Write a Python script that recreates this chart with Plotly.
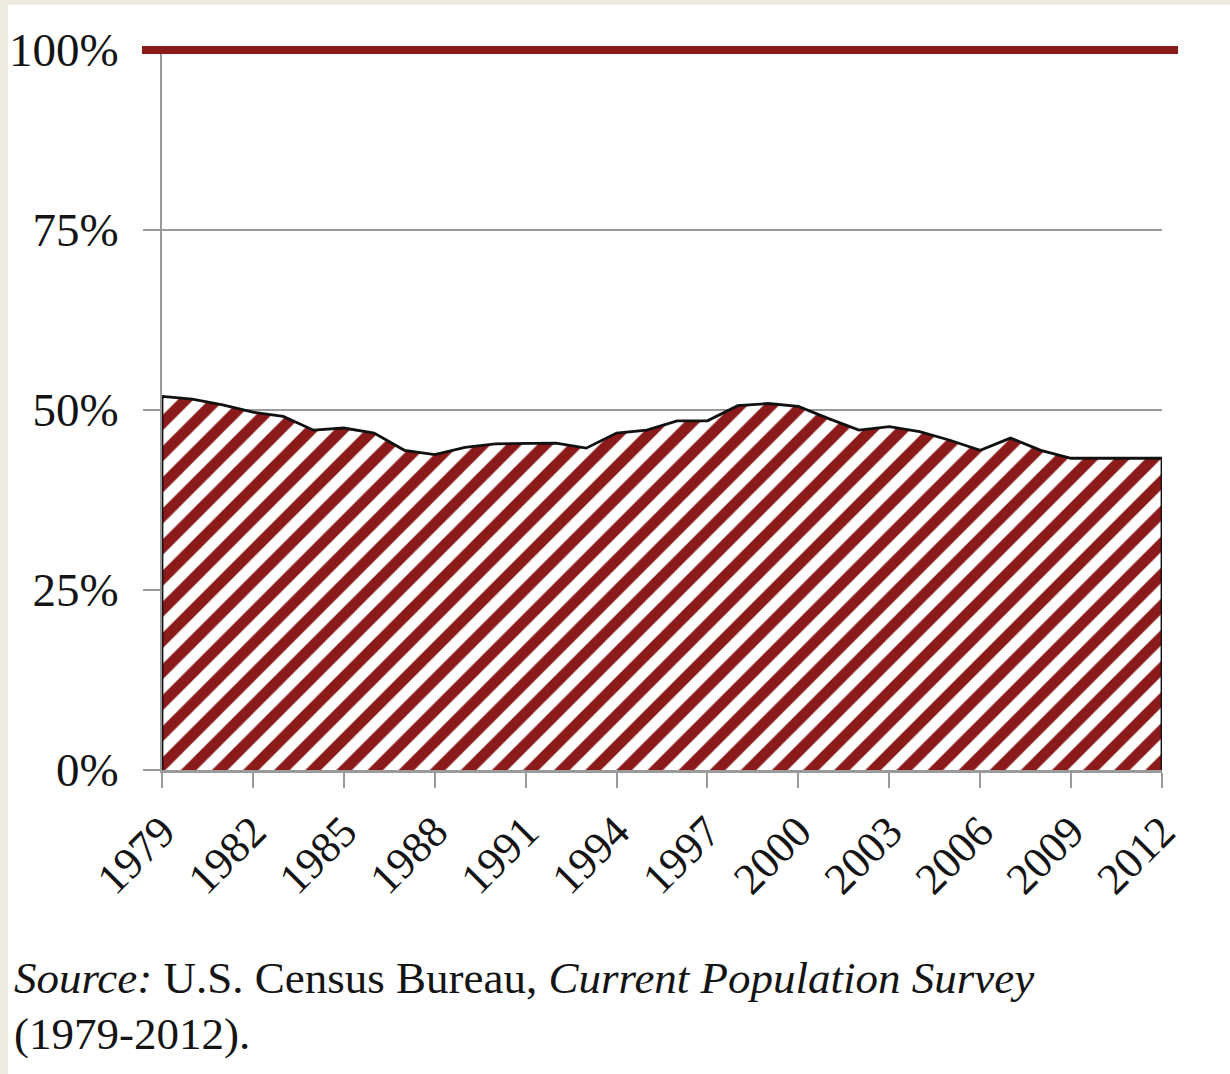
import plotly.graph_objects as go

# Share of the population (percent), 1979-2012
years = list(range(1979, 2013))
share = [51.9, 51.5, 50.7, 49.7, 49.1, 47.2, 47.5, 46.8, 44.4, 43.8,
         44.8, 45.3, 45.3, 45.4, 44.7, 46.8, 47.2, 48.5, 48.5, 50.6,
         50.9, 50.5, 48.8, 47.2, 47.7, 47.0, 45.8, 44.4, 46.1, 44.4,
         43.3, 43.3, 43.3, 43.3]

y_ticks = [0, 25, 50, 75, 100]
y_tick_labels = ["0%", "25%", "50%", "75%", "100%"]
x_ticks = list(range(1979, 2013, 3))
x_tick_labels = [str(y) for y in x_ticks]

RED = "#8B1A1A"
GRAY = "#9A9A9A"
INK = "#141414"
SERIF = "Liberation Serif"

# closed outline: down the left edge, along the series, down the right edge
poly_x = [years[0]] + years + [years[-1]]
poly_y = [0] + share + [0]

fig = go.Figure()
fig.add_trace(go.Scatter(
    x=poly_x, y=poly_y,
    mode="lines",
    fill="toself",
    fillcolor="white",
    fillpattern=dict(shape="/", fgcolor=RED, bgcolor="white",
                     size=22, solidity=0.5, fillmode="replace"),
    line=dict(color="#111111", width=2.8, shape="linear"),
    hoverinfo="skip",
    showlegend=False,
))

W, H = 1230, 1074
L, R, T, B = 162, 68, 50, 304
pw, ph = W - L - R, H - T - B


def px_x(p):
    return (p - L) / pw


def px_y(p):
    return (H - B - p) / ph


shapes = [
    # white page over the beige frame
    dict(type="rect", xref="paper", yref="paper", layer="below",
         x0=px_x(8), x1=px_x(W + 10), y0=px_y(H + 10), y1=px_y(5),
         fillcolor="white", line=dict(width=0)),
    # 100% reference line
    dict(type="line", xref="paper", yref="paper",
         x0=px_x(142), x1=px_x(1178), y0=1, y1=1,
         line=dict(color=RED, width=8)),
]

fig.update_layout(
    width=W, height=H,
    margin=dict(l=L, r=R, t=T, b=B, pad=0, autoexpand=False),
    paper_bgcolor="#EEEBE0",
    plot_bgcolor="rgba(0,0,0,0)",
    shapes=shapes,
    font=dict(family=SERIF, color=INK),
    xaxis=dict(
        range=[years[0], years[-1]],
        tickmode="array", tickvals=x_ticks, ticktext=x_tick_labels,
        tickangle=-45, tickfont=dict(family=SERIF, size=44, color=INK),
        ticks="outside", ticklen=15, tickwidth=2, tickcolor=GRAY,
        showline=True, linecolor=GRAY, linewidth=3,
        showgrid=False, zeroline=False, automargin=False,
    ),
    yaxis=dict(
        range=[0, 100],
        tickmode="array", tickvals=y_ticks, ticktext=y_tick_labels,
        tickfont=dict(family=SERIF, size=47, color=INK),
        ticks="outside", ticklen=17, tickwidth=1.5, tickcolor=GRAY,
        ticklabelstandoff=15,
        showline=True, linecolor=GRAY, linewidth=2,
        showgrid=True, gridcolor=GRAY, gridwidth=1.5,
        zeroline=False, automargin=False,
    ),
    annotations=[
        dict(xref="paper", yref="paper", x=px_x(13), y=px_y(1004),
             xanchor="left", yanchor="bottom", showarrow=False, borderpad=0,
             text="<i>Source:</i> U.S. Census Bureau, <i>Current Population Survey</i>",
             font=dict(family=SERIF, size=45, color=INK)),
        dict(xref="paper", yref="paper", x=px_x(13), y=px_y(1060),
             xanchor="left", yanchor="bottom", showarrow=False, borderpad=0,
             text="(1979-2012).",
             font=dict(family=SERIF, size=45, color=INK)),
    ],
)

fig.write_html("out.html")
